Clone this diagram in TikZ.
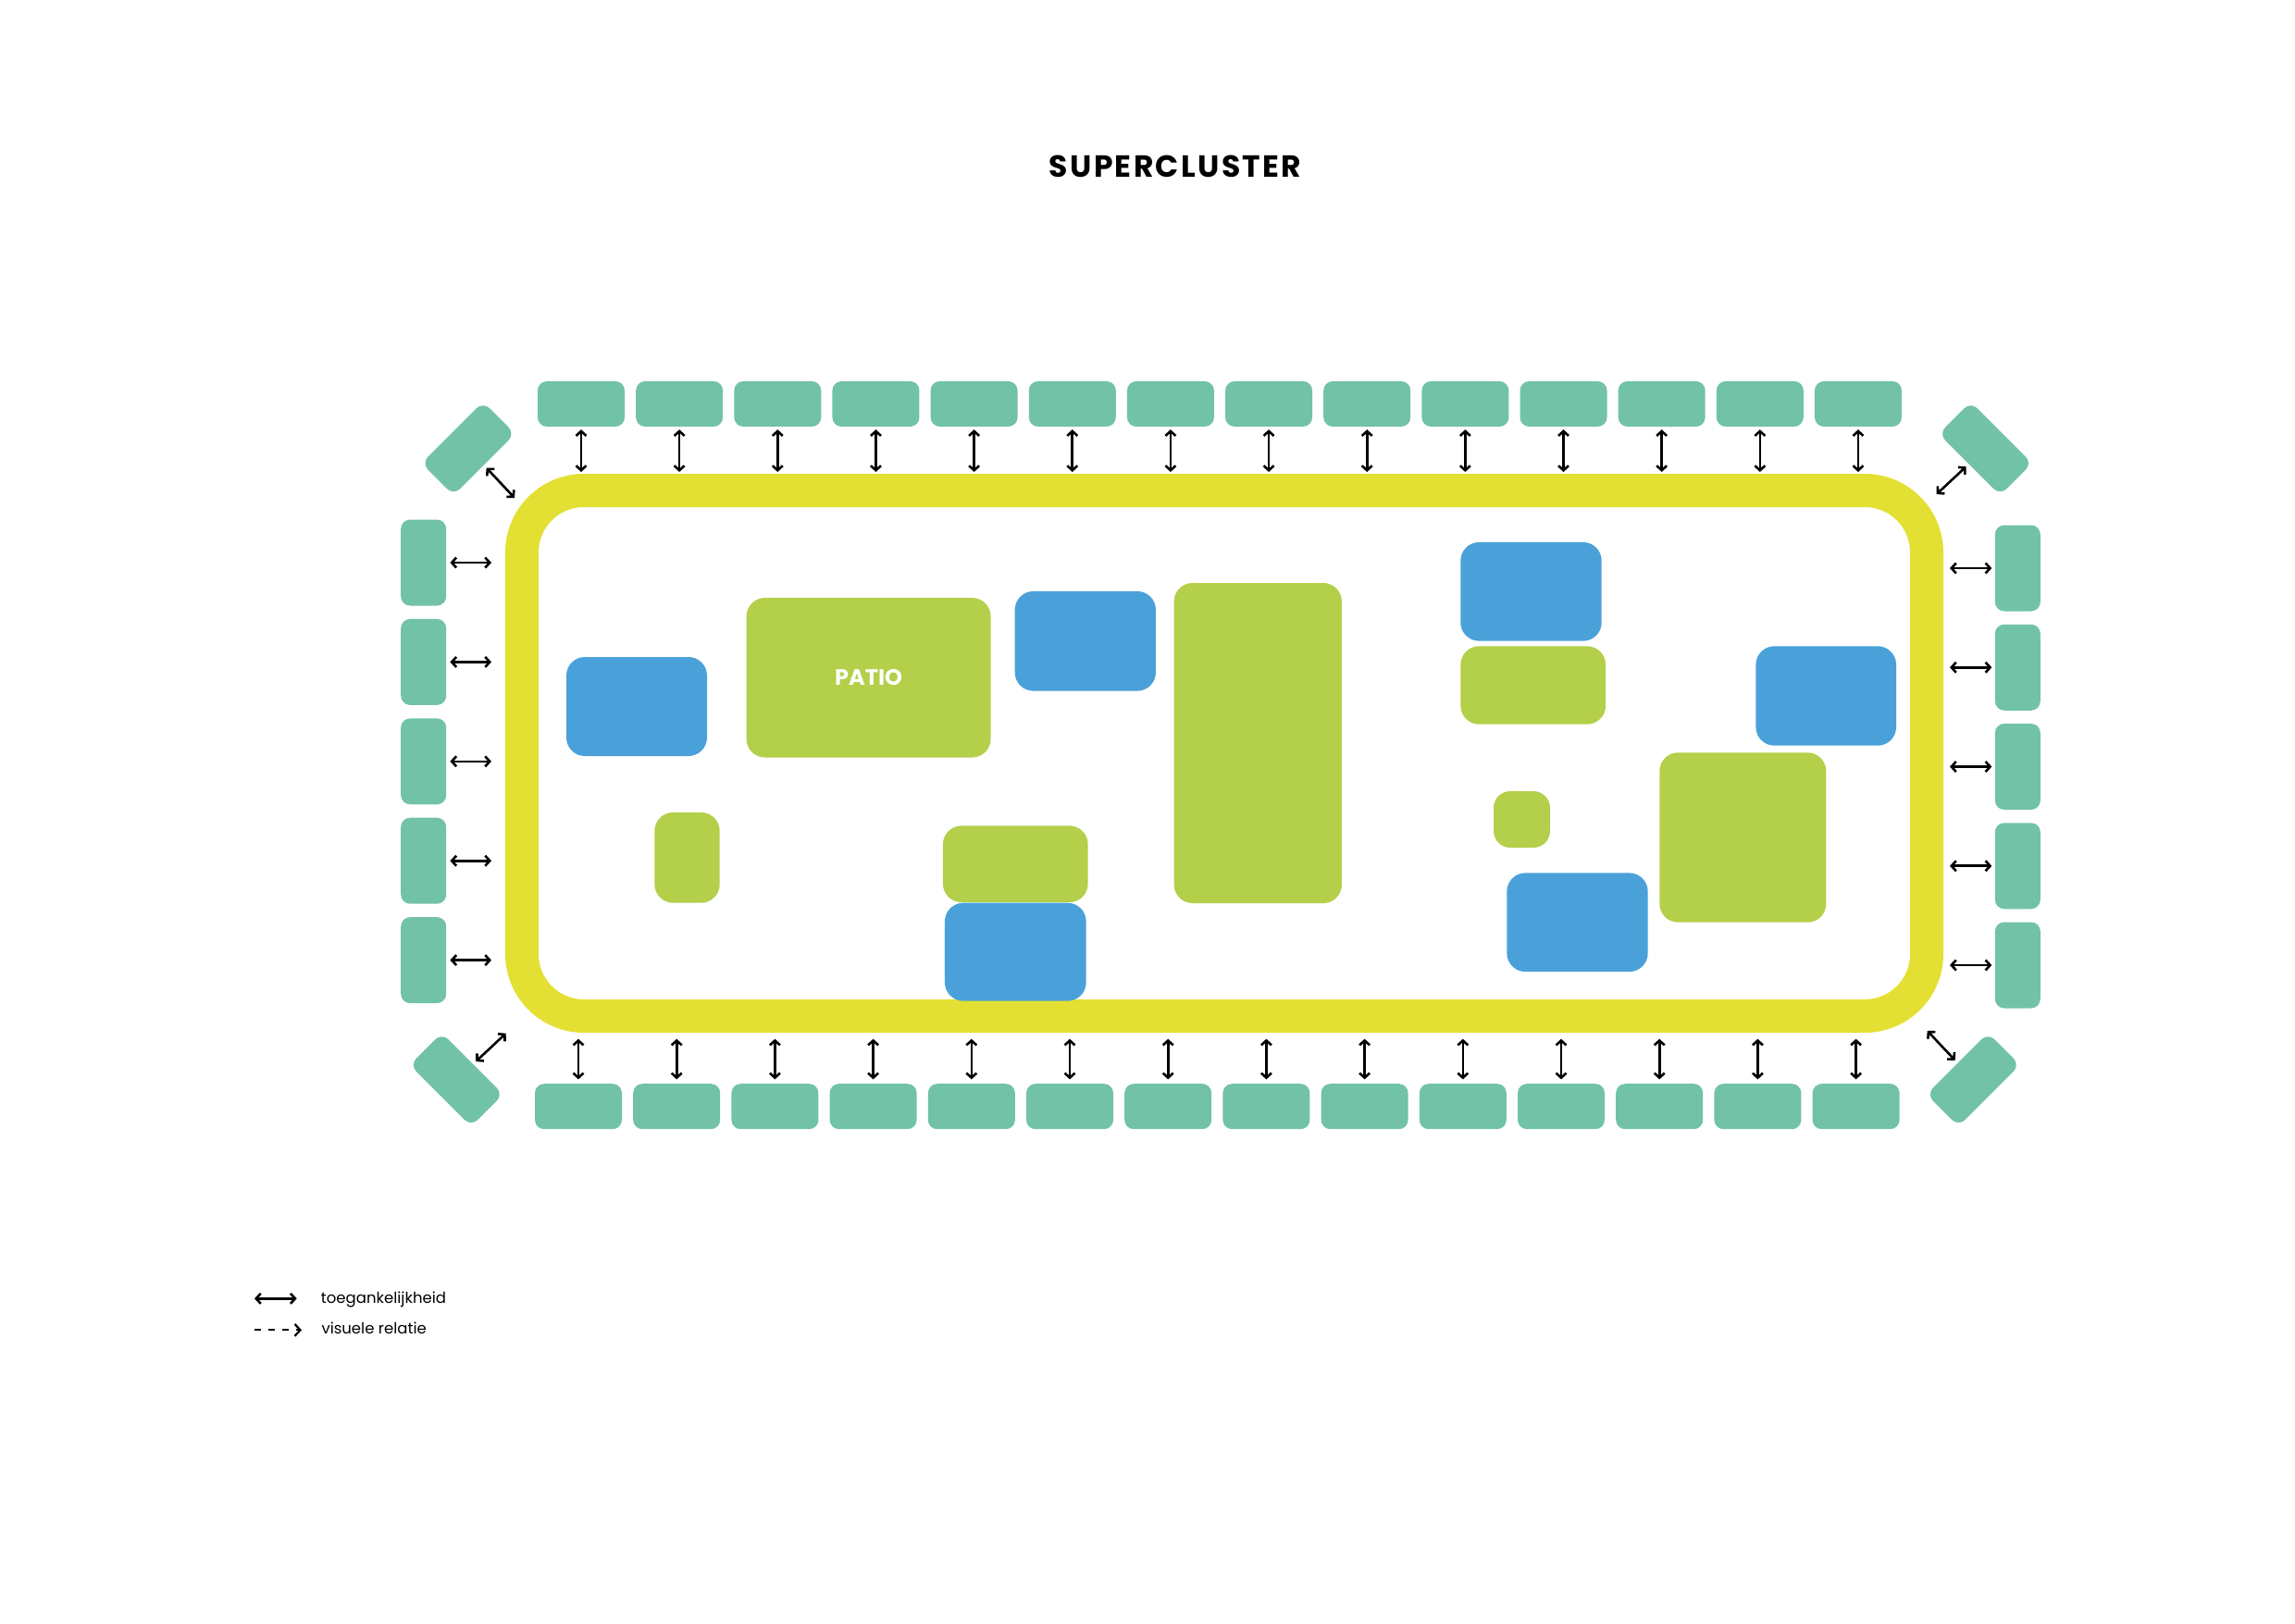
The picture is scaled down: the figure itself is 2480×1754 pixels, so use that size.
\documentclass[tikz,border=0pt]{standalone}
\usepackage{fontspec}
\setmainfont{Poppins}
\newfontfamily\titlefont{Poppins}[LetterSpace=7]
\usetikzlibrary{arrows.meta}
\definecolor{studioteal}{HTML}{72C2A8}
\definecolor{ringyellow}{HTML}{E3E033}
\definecolor{roomgreen}{HTML}{B4CF4A}
\definecolor{roomblue}{HTML}{4AA1D9}

\begin{document}
\begin{tikzpicture}[
    x=1pt, y=-1pt, >={Straight Barb[length=5pt, width=11pt]},
    studio/.style={fill=studioteal, rounded corners=10pt, inner sep=0pt, minimum width=94pt, minimum height=49pt},
    studiov/.style={studio, minimum width=49pt, minimum height=93pt},
    roombox/.style={rounded corners=20pt, inner sep=0pt, text=white, font=\bfseries\fontsize{24}{28}\selectfont},
    bluebox/.style={roombox, fill=roomblue},
    greenbox/.style={roombox, fill=roomgreen},
    access/.style={<->, line width=2.6pt}
]
\useasboundingbox (0,0) rectangle (2480,1754);
\node[anchor=base, inner sep=0pt, font=\titlefont\bfseries\fontsize{33}{40}\selectfont] (title) at (1270,191) {SUPERCLUSTER};

% Define shapes
\node[draw=ringyellow, line width=36pt, rounded corners=67pt, minimum width=1518pt, minimum height=568pt, inner sep=0pt, outer sep=18pt] (ring) at (1323,814) {};

\node[bluebox, minimum width=152pt, minimum height=107pt] (blueA) at (688,763.5) {};
\node[greenbox, minimum width=264pt, minimum height=172.5pt] (patio) at (938.6,732.3) {PATIO};
\node[greenbox, minimum width=70.4pt, minimum height=97.7pt] (greenB) at (742.5,926.8) {};
\node[bluebox, minimum width=152.3pt, minimum height=107.7pt] (blueB) at (1172.8,692.8) {};
\node[greenbox, minimum width=181.3pt, minimum height=346pt] (greenC) at (1359.3,803) {};
\node[greenbox, minimum width=156.7pt, minimum height=82.7pt] (greenD) at (1097.3,933.7) {};
\node[bluebox, minimum width=152.7pt, minimum height=106pt] (blueC) at (1097.3,1028.7) {};
\node[bluebox, minimum width=152.4pt, minimum height=106.7pt] (blueD) at (1654.5,639.3) {};
\node[greenbox, minimum width=156.7pt, minimum height=84.4pt] (greenE) at (1656.7,740.5) {};
\node[greenbox, minimum width=61pt, minimum height=61pt, rounded corners=18pt] (greenF) at (1644.5,885.5) {};
\node[bluebox, minimum width=152.4pt, minimum height=106.7pt] (blueE) at (1704.5,996.7) {};
\node[bluebox, minimum width=151.7pt, minimum height=107.4pt] (blueF) at (1973.2,752) {};
\node[greenbox, minimum width=180pt, minimum height=183.4pt] (greenG) at (1883.3,905) {};

\foreach \i in {1,...,14} {
  \node[studio] (top\i) at ({628+(\i-1)*106.15},436.5) {};
  \node[studio] (bot\i) at ({625+(\i-1)*106.2},1195.7) {};
}
\foreach \i in {1,...,5} {
  \node[studiov] (left\i) at (457.7,{608+(\i-1)*107.4}) {};
  \node[studiov] (right\i) at (2180.3,{614+(\i-1)*107.25}) {};
}
\node[studio, rotate=45] (cornerNW) at (506,484.7) {};
\node[studio, rotate=-45] (cornerNE) at (2145.5,484.7) {};
\node[studio, rotate=-45] (cornerSW) at (493.3,1166.7) {};
\node[studio, rotate=45] (cornerSE) at (2132.3,1166.7) {};
\coordinate (ringNW) at (556,538);
\coordinate (ringNE) at (2092.7,534);
\coordinate (ringSW) at (546.7,1116.7);
\coordinate (ringSE) at (2082.7,1114);

% Draw arrows
\foreach \i in {1,...,14} {
  \draw[access, shorten <=3pt, shorten >=2pt] (top\i) -- (top\i |- ring.north);
  \draw[access, shorten <=4.6pt, shorten >=6.7pt] (bot\i) -- (bot\i |- ring.south);
}
\foreach \i in {1,...,5} {
  \draw[access, shorten <=4pt, shorten >=15pt] (left\i) -- (left\i -| ring.west);
  \draw[access, shorten <=3.3pt, shorten >=7pt] (right\i) -- (right\i -| ring.east);
}
\draw[access, shorten <=4pt] (cornerNW) -- (ringNW);
\draw[access, shorten <=4pt] (cornerNE) -- (ringNE);
\draw[access, shorten <=4pt] (cornerSW) -- (ringSW);
\draw[access, shorten <=4pt] (cornerSE) -- (ringSE);

% legend
\coordinate (keyA1) at (275,1403.3);
\coordinate (keyA2) at (320.7,1403.3);
\coordinate (keyB1) at (275,1437.3);
\coordinate (keyB2) at (326,1437.3);
\draw[access] (keyA1) -- (keyA2);
\draw[->, line width=2.2pt, dash pattern=on 7pt off 8pt, >={Straight Barb[length=6pt, width=13pt]}] (keyB1) -- (keyB2);
\node[anchor=base west, inner sep=0pt, font=\fontsize{16.5}{20}\selectfont] (keyAtext) at (346.7,1408.3) {toegankelijkheid};
\node[anchor=base west, inner sep=0pt, font=\fontsize{16.5}{20}\selectfont] (keyBtext) at (347.3,1441) {visuele relatie};
\end{tikzpicture}
\end{document}
